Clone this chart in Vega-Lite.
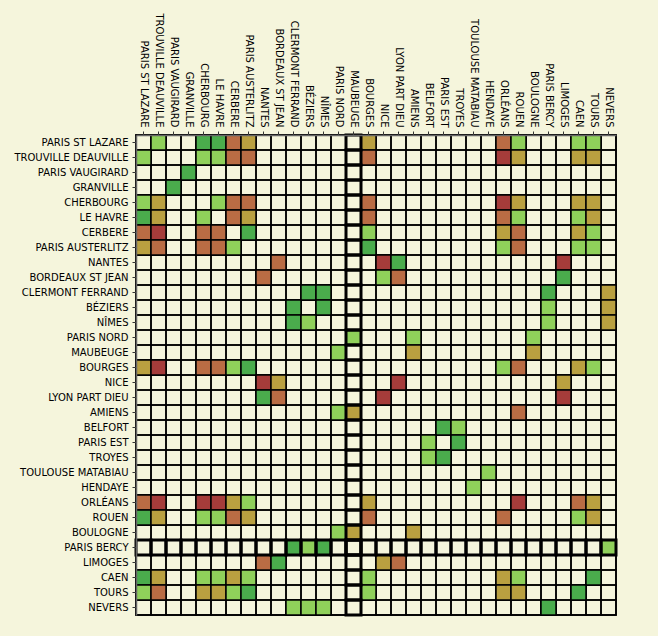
{
  "$schema": "https://vega.github.io/schema/vega-lite/v6.json",
  "description": "Station connection matrix, coloured by level.",
  "width": 480,
  "height": 480,
  "autosize": "none",
  "padding": {"left": 136, "top": 135, "right": 42, "bottom": 21},
  "background": "#f5f5dc",
  "config": {
    "view": {"fill": "#f5f5dc", "stroke": "#555", "strokeWidth": 1.5},
    "font": "DejaVu Sans",
    "axis": {
      "title": null,
      "labelFont": "DejaVu Sans",
      "labelFontSize": 10,
      "labelColor": "#000",
      "tickColor": "#333",
      "tickSize": 4,
      "labelPadding": 4,
      "domainColor": "#666",
      "domainWidth": 1.5,
      "grid": false
    }
  },
  "datasets": {
    "stations": [
      {"station": "PARIS ST LAZARE"}, {"station": "TROUVILLE DEAUVILLE"}, {"station": "PARIS VAUGIRARD"}, {"station": "GRANVILLE"},
      {"station": "CHERBOURG"}, {"station": "LE HAVRE"}, {"station": "CERBERE"}, {"station": "PARIS AUSTERLITZ"},
      {"station": "NANTES"}, {"station": "BORDEAUX ST JEAN"}, {"station": "CLERMONT FERRAND"}, {"station": "BÉZIERS"},
      {"station": "NÎMES"}, {"station": "PARIS NORD"}, {"station": "MAUBEUGE"}, {"station": "BOURGES"},
      {"station": "NICE"}, {"station": "LYON PART DIEU"}, {"station": "AMIENS"}, {"station": "BELFORT"},
      {"station": "PARIS EST"}, {"station": "TROYES"}, {"station": "TOULOUSE MATABIAU"}, {"station": "HENDAYE"},
      {"station": "ORLÉANS"}, {"station": "ROUEN"}, {"station": "BOULOGNE"}, {"station": "PARIS BERCY"},
      {"station": "LIMOGES"}, {"station": "CAEN"}, {"station": "TOURS"}, {"station": "NEVERS"}
    ],
    "links": [
      {"from": "PARIS ST LAZARE", "to": "TROUVILLE DEAUVILLE", "level": 2},
      {"from": "PARIS ST LAZARE", "to": "CHERBOURG", "level": 1},
      {"from": "PARIS ST LAZARE", "to": "LE HAVRE", "level": 1},
      {"from": "PARIS ST LAZARE", "to": "CERBERE", "level": 4},
      {"from": "PARIS ST LAZARE", "to": "PARIS AUSTERLITZ", "level": 3},
      {"from": "PARIS ST LAZARE", "to": "BOURGES", "level": 3},
      {"from": "PARIS ST LAZARE", "to": "ORLÉANS", "level": 4},
      {"from": "PARIS ST LAZARE", "to": "ROUEN", "level": 2},
      {"from": "PARIS ST LAZARE", "to": "CAEN", "level": 2},
      {"from": "PARIS ST LAZARE", "to": "TOURS", "level": 2},

      {"from": "TROUVILLE DEAUVILLE", "to": "PARIS ST LAZARE", "level": 2},
      {"from": "TROUVILLE DEAUVILLE", "to": "CHERBOURG", "level": 2},
      {"from": "TROUVILLE DEAUVILLE", "to": "LE HAVRE", "level": 2},
      {"from": "TROUVILLE DEAUVILLE", "to": "CERBERE", "level": 4},
      {"from": "TROUVILLE DEAUVILLE", "to": "PARIS AUSTERLITZ", "level": 4},
      {"from": "TROUVILLE DEAUVILLE", "to": "BOURGES", "level": 4},
      {"from": "TROUVILLE DEAUVILLE", "to": "ORLÉANS", "level": 5},
      {"from": "TROUVILLE DEAUVILLE", "to": "ROUEN", "level": 3},
      {"from": "TROUVILLE DEAUVILLE", "to": "CAEN", "level": 3},
      {"from": "TROUVILLE DEAUVILLE", "to": "TOURS", "level": 3},

      {"from": "PARIS VAUGIRARD", "to": "GRANVILLE", "level": 1},
      {"from": "GRANVILLE", "to": "PARIS VAUGIRARD", "level": 1},

      {"from": "CHERBOURG", "to": "PARIS ST LAZARE", "level": 2},
      {"from": "CHERBOURG", "to": "TROUVILLE DEAUVILLE", "level": 3},
      {"from": "CHERBOURG", "to": "LE HAVRE", "level": 2},
      {"from": "CHERBOURG", "to": "CERBERE", "level": 4},
      {"from": "CHERBOURG", "to": "PARIS AUSTERLITZ", "level": 4},
      {"from": "CHERBOURG", "to": "BOURGES", "level": 4},
      {"from": "CHERBOURG", "to": "ORLÉANS", "level": 5},
      {"from": "CHERBOURG", "to": "ROUEN", "level": 3},
      {"from": "CHERBOURG", "to": "CAEN", "level": 3},
      {"from": "CHERBOURG", "to": "TOURS", "level": 3},

      {"from": "LE HAVRE", "to": "PARIS ST LAZARE", "level": 1},
      {"from": "LE HAVRE", "to": "TROUVILLE DEAUVILLE", "level": 3},
      {"from": "LE HAVRE", "to": "CHERBOURG", "level": 2},
      {"from": "LE HAVRE", "to": "CERBERE", "level": 4},
      {"from": "LE HAVRE", "to": "PARIS AUSTERLITZ", "level": 3},
      {"from": "LE HAVRE", "to": "BOURGES", "level": 4},
      {"from": "LE HAVRE", "to": "ORLÉANS", "level": 4},
      {"from": "LE HAVRE", "to": "ROUEN", "level": 2},
      {"from": "LE HAVRE", "to": "CAEN", "level": 2},
      {"from": "LE HAVRE", "to": "TOURS", "level": 3},

      {"from": "CERBERE", "to": "PARIS ST LAZARE", "level": 4},
      {"from": "CERBERE", "to": "TROUVILLE DEAUVILLE", "level": 5},
      {"from": "CERBERE", "to": "CHERBOURG", "level": 4},
      {"from": "CERBERE", "to": "LE HAVRE", "level": 4},
      {"from": "CERBERE", "to": "PARIS AUSTERLITZ", "level": 1},
      {"from": "CERBERE", "to": "BOURGES", "level": 2},
      {"from": "CERBERE", "to": "ORLÉANS", "level": 3},
      {"from": "CERBERE", "to": "ROUEN", "level": 4},
      {"from": "CERBERE", "to": "CAEN", "level": 3},
      {"from": "CERBERE", "to": "TOURS", "level": 2},

      {"from": "PARIS AUSTERLITZ", "to": "PARIS ST LAZARE", "level": 3},
      {"from": "PARIS AUSTERLITZ", "to": "TROUVILLE DEAUVILLE", "level": 4},
      {"from": "PARIS AUSTERLITZ", "to": "CHERBOURG", "level": 4},
      {"from": "PARIS AUSTERLITZ", "to": "LE HAVRE", "level": 4},
      {"from": "PARIS AUSTERLITZ", "to": "CERBERE", "level": 2},
      {"from": "PARIS AUSTERLITZ", "to": "BOURGES", "level": 1},
      {"from": "PARIS AUSTERLITZ", "to": "ORLÉANS", "level": 2},
      {"from": "PARIS AUSTERLITZ", "to": "ROUEN", "level": 4},
      {"from": "PARIS AUSTERLITZ", "to": "CAEN", "level": 2},
      {"from": "PARIS AUSTERLITZ", "to": "TOURS", "level": 2},

      {"from": "NANTES", "to": "BORDEAUX ST JEAN", "level": 4},
      {"from": "NANTES", "to": "NICE", "level": 5},
      {"from": "NANTES", "to": "LYON PART DIEU", "level": 1},
      {"from": "NANTES", "to": "LIMOGES", "level": 5},

      {"from": "BORDEAUX ST JEAN", "to": "NANTES", "level": 4},
      {"from": "BORDEAUX ST JEAN", "to": "NICE", "level": 2},
      {"from": "BORDEAUX ST JEAN", "to": "LYON PART DIEU", "level": 4},
      {"from": "BORDEAUX ST JEAN", "to": "LIMOGES", "level": 1},

      {"from": "CLERMONT FERRAND", "to": "BÉZIERS", "level": 1},
      {"from": "CLERMONT FERRAND", "to": "NÎMES", "level": 1},
      {"from": "CLERMONT FERRAND", "to": "PARIS BERCY", "level": 1},
      {"from": "CLERMONT FERRAND", "to": "NEVERS", "level": 3},

      {"from": "BÉZIERS", "to": "CLERMONT FERRAND", "level": 1},
      {"from": "BÉZIERS", "to": "NÎMES", "level": 1},
      {"from": "BÉZIERS", "to": "PARIS BERCY", "level": 2},
      {"from": "BÉZIERS", "to": "NEVERS", "level": 3},

      {"from": "NÎMES", "to": "CLERMONT FERRAND", "level": 1},
      {"from": "NÎMES", "to": "BÉZIERS", "level": 2},
      {"from": "NÎMES", "to": "PARIS BERCY", "level": 2},
      {"from": "NÎMES", "to": "NEVERS", "level": 3},

      {"from": "PARIS NORD", "to": "MAUBEUGE", "level": 2},
      {"from": "PARIS NORD", "to": "AMIENS", "level": 2},
      {"from": "PARIS NORD", "to": "BOULOGNE", "level": 2},

      {"from": "MAUBEUGE", "to": "PARIS NORD", "level": 2},
      {"from": "MAUBEUGE", "to": "AMIENS", "level": 3},
      {"from": "MAUBEUGE", "to": "BOULOGNE", "level": 3},

      {"from": "BOURGES", "to": "PARIS ST LAZARE", "level": 3},
      {"from": "BOURGES", "to": "TROUVILLE DEAUVILLE", "level": 5},
      {"from": "BOURGES", "to": "CHERBOURG", "level": 4},
      {"from": "BOURGES", "to": "LE HAVRE", "level": 4},
      {"from": "BOURGES", "to": "CERBERE", "level": 2},
      {"from": "BOURGES", "to": "PARIS AUSTERLITZ", "level": 1},
      {"from": "BOURGES", "to": "ORLÉANS", "level": 2},
      {"from": "BOURGES", "to": "ROUEN", "level": 4},
      {"from": "BOURGES", "to": "CAEN", "level": 3},
      {"from": "BOURGES", "to": "TOURS", "level": 2},

      {"from": "NICE", "to": "NANTES", "level": 5},
      {"from": "NICE", "to": "BORDEAUX ST JEAN", "level": 3},
      {"from": "NICE", "to": "LYON PART DIEU", "level": 5},
      {"from": "NICE", "to": "LIMOGES", "level": 3},

      {"from": "LYON PART DIEU", "to": "NANTES", "level": 1},
      {"from": "LYON PART DIEU", "to": "BORDEAUX ST JEAN", "level": 4},
      {"from": "LYON PART DIEU", "to": "NICE", "level": 5},
      {"from": "LYON PART DIEU", "to": "LIMOGES", "level": 5},

      {"from": "AMIENS", "to": "PARIS NORD", "level": 2},
      {"from": "AMIENS", "to": "MAUBEUGE", "level": 3},
      {"from": "AMIENS", "to": "ROUEN", "level": 4},

      {"from": "BELFORT", "to": "PARIS EST", "level": 1},
      {"from": "BELFORT", "to": "TROYES", "level": 2},
      {"from": "PARIS EST", "to": "BELFORT", "level": 2},
      {"from": "PARIS EST", "to": "TROYES", "level": 1},
      {"from": "TROYES", "to": "BELFORT", "level": 2},
      {"from": "TROYES", "to": "PARIS EST", "level": 1},

      {"from": "TOULOUSE MATABIAU", "to": "HENDAYE", "level": 2},
      {"from": "HENDAYE", "to": "TOULOUSE MATABIAU", "level": 2},

      {"from": "ORLÉANS", "to": "PARIS ST LAZARE", "level": 4},
      {"from": "ORLÉANS", "to": "TROUVILLE DEAUVILLE", "level": 5},
      {"from": "ORLÉANS", "to": "CHERBOURG", "level": 5},
      {"from": "ORLÉANS", "to": "LE HAVRE", "level": 5},
      {"from": "ORLÉANS", "to": "CERBERE", "level": 3},
      {"from": "ORLÉANS", "to": "PARIS AUSTERLITZ", "level": 2},
      {"from": "ORLÉANS", "to": "BOURGES", "level": 3},
      {"from": "ORLÉANS", "to": "ROUEN", "level": 5},
      {"from": "ORLÉANS", "to": "CAEN", "level": 4},
      {"from": "ORLÉANS", "to": "TOURS", "level": 3},

      {"from": "ROUEN", "to": "PARIS ST LAZARE", "level": 1},
      {"from": "ROUEN", "to": "TROUVILLE DEAUVILLE", "level": 3},
      {"from": "ROUEN", "to": "CHERBOURG", "level": 2},
      {"from": "ROUEN", "to": "LE HAVRE", "level": 2},
      {"from": "ROUEN", "to": "CERBERE", "level": 4},
      {"from": "ROUEN", "to": "PARIS AUSTERLITZ", "level": 3},
      {"from": "ROUEN", "to": "BOURGES", "level": 4},
      {"from": "ROUEN", "to": "ORLÉANS", "level": 4},
      {"from": "ROUEN", "to": "CAEN", "level": 2},
      {"from": "ROUEN", "to": "TOURS", "level": 3},

      {"from": "BOULOGNE", "to": "PARIS NORD", "level": 2},
      {"from": "BOULOGNE", "to": "MAUBEUGE", "level": 3},
      {"from": "BOULOGNE", "to": "AMIENS", "level": 3},

      {"from": "PARIS BERCY", "to": "CLERMONT FERRAND", "level": 1},
      {"from": "PARIS BERCY", "to": "BÉZIERS", "level": 2},
      {"from": "PARIS BERCY", "to": "NÎMES", "level": 1},
      {"from": "PARIS BERCY", "to": "NEVERS", "level": 2},

      {"from": "LIMOGES", "to": "NANTES", "level": 4},
      {"from": "LIMOGES", "to": "BORDEAUX ST JEAN", "level": 1},
      {"from": "LIMOGES", "to": "NICE", "level": 3},
      {"from": "LIMOGES", "to": "LYON PART DIEU", "level": 4},

      {"from": "CAEN", "to": "PARIS ST LAZARE", "level": 1},
      {"from": "CAEN", "to": "TROUVILLE DEAUVILLE", "level": 3},
      {"from": "CAEN", "to": "CHERBOURG", "level": 2},
      {"from": "CAEN", "to": "LE HAVRE", "level": 2},
      {"from": "CAEN", "to": "CERBERE", "level": 3},
      {"from": "CAEN", "to": "PARIS AUSTERLITZ", "level": 2},
      {"from": "CAEN", "to": "BOURGES", "level": 2},
      {"from": "CAEN", "to": "ORLÉANS", "level": 3},
      {"from": "CAEN", "to": "ROUEN", "level": 2},
      {"from": "CAEN", "to": "TOURS", "level": 1},

      {"from": "TOURS", "to": "PARIS ST LAZARE", "level": 2},
      {"from": "TOURS", "to": "TROUVILLE DEAUVILLE", "level": 4},
      {"from": "TOURS", "to": "CHERBOURG", "level": 3},
      {"from": "TOURS", "to": "LE HAVRE", "level": 3},
      {"from": "TOURS", "to": "CERBERE", "level": 2},
      {"from": "TOURS", "to": "PARIS AUSTERLITZ", "level": 1},
      {"from": "TOURS", "to": "BOURGES", "level": 2},
      {"from": "TOURS", "to": "ORLÉANS", "level": 3},
      {"from": "TOURS", "to": "ROUEN", "level": 3},
      {"from": "TOURS", "to": "CAEN", "level": 1},

      {"from": "NEVERS", "to": "CLERMONT FERRAND", "level": 2},
      {"from": "NEVERS", "to": "BÉZIERS", "level": 2},
      {"from": "NEVERS", "to": "NÎMES", "level": 2},
      {"from": "NEVERS", "to": "PARIS BERCY", "level": 1}
    ]
  },
  "layer": [
    {
      "data": {"name": "stations"},
      "mark": {"type": "rect", "fillOpacity": 0, "stroke": "#000", "strokeWidth": 1.5},
      "encoding": {
        "x": {
          "field": "station", "type": "nominal",
          "axis": {"orient": "top", "labelAngle": 90},
          "scale": {"paddingInner": 0, "paddingOuter": 0, "domain": ["PARIS ST LAZARE", "TROUVILLE DEAUVILLE", "PARIS VAUGIRARD", "GRANVILLE", "CHERBOURG", "LE HAVRE", "CERBERE", "PARIS AUSTERLITZ", "NANTES", "BORDEAUX ST JEAN", "CLERMONT FERRAND", "BÉZIERS", "NÎMES", "PARIS NORD", "MAUBEUGE", "BOURGES", "NICE", "LYON PART DIEU", "AMIENS", "BELFORT", "PARIS EST", "TROYES", "TOULOUSE MATABIAU", "HENDAYE", "ORLÉANS", "ROUEN", "BOULOGNE", "PARIS BERCY", "LIMOGES", "CAEN", "TOURS", "NEVERS"]}
        }
      }
    },
    {
      "data": {"name": "stations"},
      "mark": {"type": "rect", "fillOpacity": 0, "stroke": "#000", "strokeWidth": 1.5},
      "encoding": {
        "y": {
          "field": "station", "type": "nominal",
          "axis": {"orient": "left"},
          "scale": {"paddingInner": 0, "paddingOuter": 0, "domain": ["PARIS ST LAZARE", "TROUVILLE DEAUVILLE", "PARIS VAUGIRARD", "GRANVILLE", "CHERBOURG", "LE HAVRE", "CERBERE", "PARIS AUSTERLITZ", "NANTES", "BORDEAUX ST JEAN", "CLERMONT FERRAND", "BÉZIERS", "NÎMES", "PARIS NORD", "MAUBEUGE", "BOURGES", "NICE", "LYON PART DIEU", "AMIENS", "BELFORT", "PARIS EST", "TROYES", "TOULOUSE MATABIAU", "HENDAYE", "ORLÉANS", "ROUEN", "BOULOGNE", "PARIS BERCY", "LIMOGES", "CAEN", "TOURS", "NEVERS"]}
        }
      }
    },
    {
      "data": {"name": "links"},
      "mark": {"type": "rect", "stroke": "#000", "strokeWidth": 1.5},
      "encoding": {
        "x": {"field": "to", "type": "nominal", "axis": {"orient": "top", "labelAngle": 90}},
        "y": {"field": "from", "type": "nominal", "axis": {"orient": "left"}},
        "fill": {
          "field": "level", "type": "ordinal", "legend": null,
          "scale": {"domain": [1, 2, 3, 4, 5], "range": ["#4aac4c", "#8fd05a", "#b9a040", "#b96c44", "#a53c3a"]}
        }
      }
    },
    {
      "data": {"name": "stations"},
      "mark": {"type": "rect", "fillOpacity": 0, "stroke": "#000", "strokeWidth": 3},
      "encoding": {
        "x": {"field": "station", "type": "nominal", "axis": {"orient": "top", "labelAngle": 90}},
        "y": {"datum": "PARIS BERCY", "type": "nominal", "axis": {"orient": "left"}}
      }
    },
    {
      "data": {"name": "stations"},
      "mark": {"type": "rect", "fillOpacity": 0, "stroke": "#000", "strokeWidth": 3},
      "encoding": {
        "x": {"datum": "MAUBEUGE", "type": "nominal", "axis": {"orient": "top", "labelAngle": 90}},
        "y": {"field": "station", "type": "nominal", "axis": {"orient": "left"}}
      }
    }
  ]
}
